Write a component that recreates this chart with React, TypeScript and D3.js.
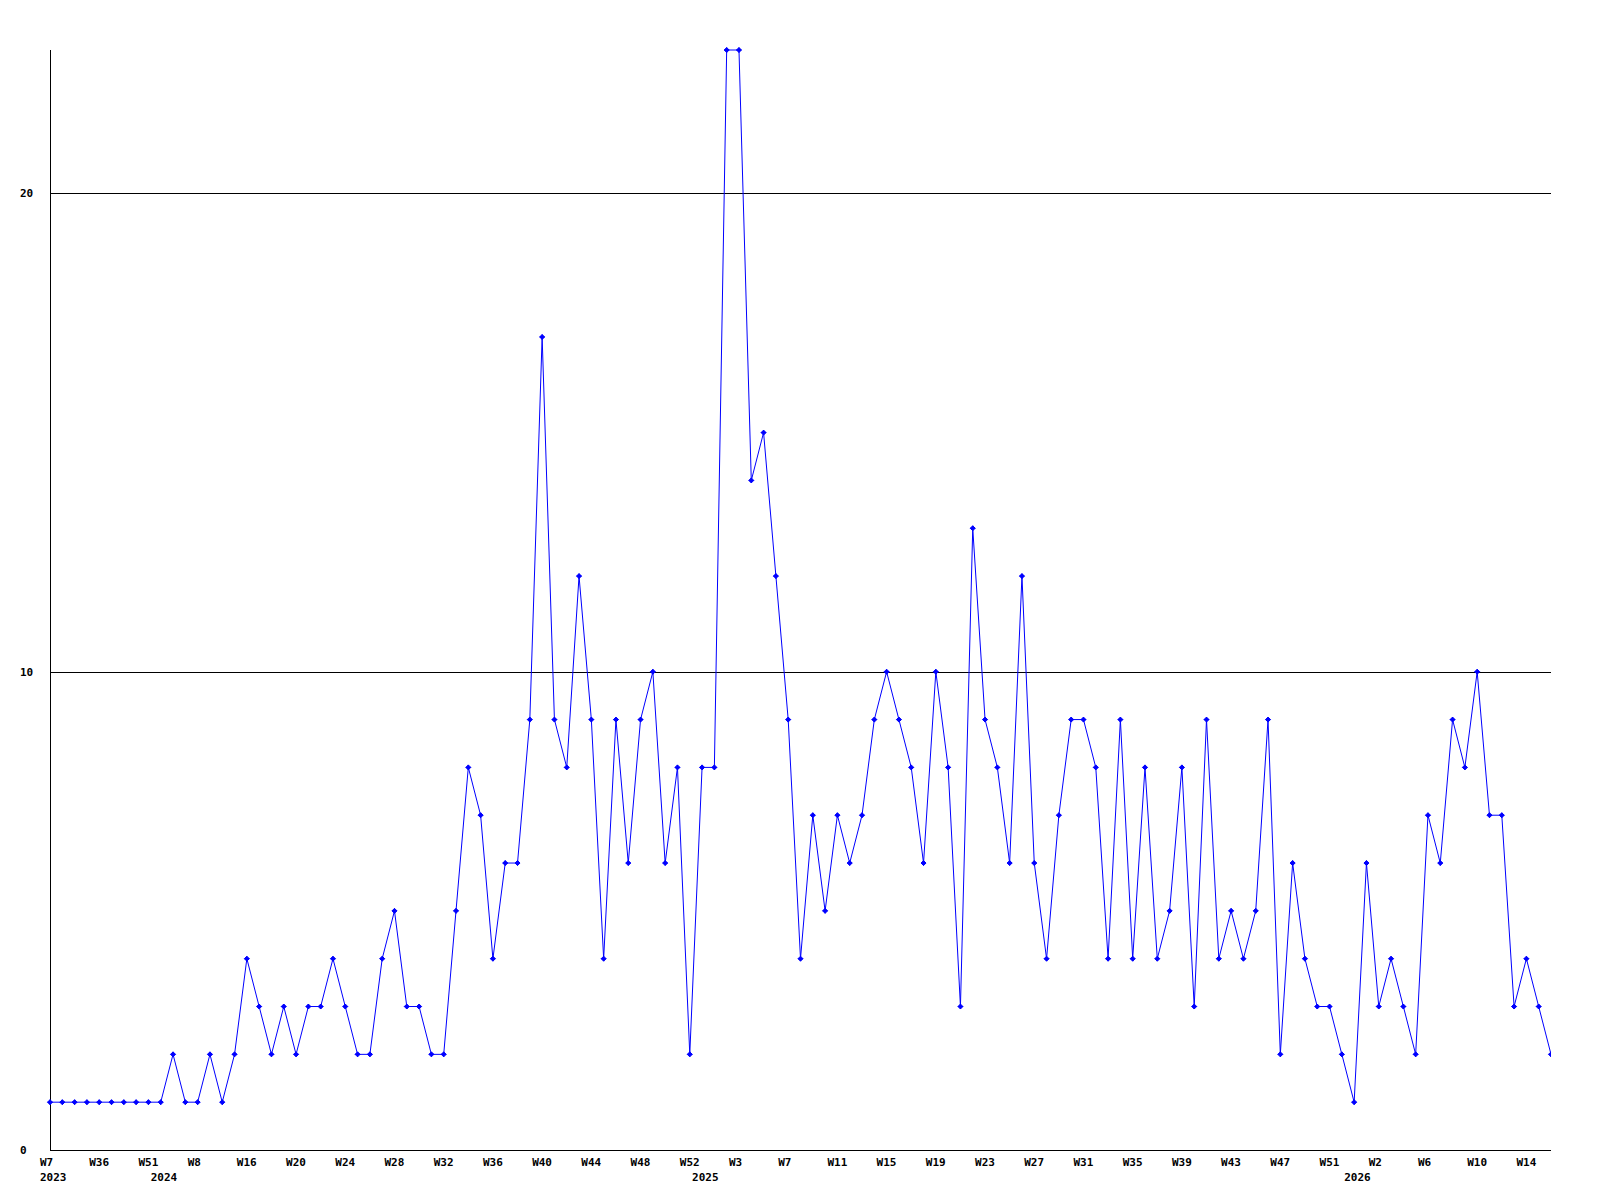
import React from "react";
import * as d3 from "d3";

const values: number[] = [
  1, 1, 1, 1, 1, 1, 1, 1, 1, 1,
  2, 1, 1, 2, 1, 2, 4, 3, 2, 3,
  2, 3, 3, 4, 3, 2, 2, 4, 5, 3,
  3, 2, 2, 5, 8, 7, 4, 6, 6, 9,
  17, 9, 8, 12, 9, 4, 9, 6, 9, 10,
  6, 8, 2, 8, 8, 23, 23, 14, 15, 12,
  9, 4, 7, 5, 7, 6, 7, 9, 10, 9,
  8, 6, 10, 8, 3, 13, 9, 8, 6, 12,
  6, 4, 7, 9, 9, 8, 4, 9, 4, 8,
  4, 5, 8, 3, 9, 4, 5, 4, 5, 9,
  2, 6, 4, 3, 3, 2, 1, 6, 3, 4,
  3, 2, 7, 6, 9, 8, 10, 7, 7, 3,
  4, 3, 2,
];

const weekLabels: string[] = [
  "W7", "W36", "W51", "W8", "W16", "W20", "W24", "W28", "W32", "W36",
  "W40", "W44", "W48", "W52", "W3", "W7", "W11", "W15", "W19", "W23",
  "W27", "W31", "W35", "W39", "W43", "W47", "W51", "W2", "W6", "W10", "W14",
];
const weekLabelIndex: number[] = weekLabels.map((_, i) => i * 4);

const yearLabels: string[] = ["2023", "2024", "2025", "2026"];
const yearLabelIndex: number[] = [0, 9, 53, 106];

const yTicks: number[] = [0, 10, 20];
const gridValues: number[] = [10, 20];

const W = 1600;
const H = 1200;
const left = 50;
const right = 1551;
const top = 50;
const bottom = 1150;

export default function App() {
  const x = d3.scaleLinear().domain([0, values.length - 1]).range([left, right]);
  const y = d3.scaleLinear().domain([0, 23]).range([bottom, top]);
  const line = d3
    .line<number>()
    .x((_, i) => x(i))
    .y((d) => y(d));
  const font = "'DejaVu Sans Mono', monospace";
  return (
    <svg
      width={W}
      height={H}
      style={{ position: "absolute", left: 0, top: 0, background: "#fff" }}
    >
      <defs>
        <clipPath id="plotClip">
          <rect x={left - 4} y={top - 4} width={right - left + 4} height={bottom - top + 8} />
        </clipPath>
      </defs>
      <rect x={0} y={0} width={W} height={H} fill="#fff" />
      {gridValues.map((g) => (
        <line
          key={g}
          x1={left}
          x2={right}
          y1={Math.round(y(g)) + 0.5}
          y2={Math.round(y(g)) + 0.5}
          stroke="#000"
          strokeWidth={1}
        />
      ))}
      <line x1={left + 0.5} x2={left + 0.5} y1={top} y2={bottom + 1} stroke="#000" />
      <line x1={left} x2={right} y1={bottom + 0.5} y2={bottom + 0.5} stroke="#000" />
      <g clipPath="url(#plotClip)">
        <path d={line(values) || ""} fill="none" stroke="#0000ff" strokeWidth={1} />
        {values.map((v, i) => (
          <path
            key={i}
            transform={`translate(${x(i)},${y(v)})`}
            d="M-2.5,0 L0,-2.5 L2.5,0 L0,2.5 Z M-2.5,0 L2.5,0 M0,-2.5 L0,2.5"
            fill="#0000ff"
            stroke="#0000ff"
            strokeWidth={1}
          />
        ))}
      </g>
      {yTicks.map((t) => (
        <text
          key={t}
          x={20}
          y={y(t)}
          dy="0.35em"
          fontFamily={font}
          fontWeight="bold"
          fontSize={11}
          fill="#000"
        >
          {t}
        </text>
      ))}
      {weekLabels.map((l, i) => (
        <text
          key={i}
          x={x(weekLabelIndex[i]) - 10}
          y={1162}
          dy="0.35em"
          fontFamily={font}
          fontWeight="bold"
          fontSize={11}
          fill="#000"
        >
          {l}
        </text>
      ))}
      {yearLabels.map((l, i) => (
        <text
          key={l}
          x={x(yearLabelIndex[i]) - 10}
          y={1177}
          dy="0.35em"
          fontFamily={font}
          fontWeight="bold"
          fontSize={11}
          fill="#000"
        >
          {l}
        </text>
      ))}
    </svg>
  );
}
